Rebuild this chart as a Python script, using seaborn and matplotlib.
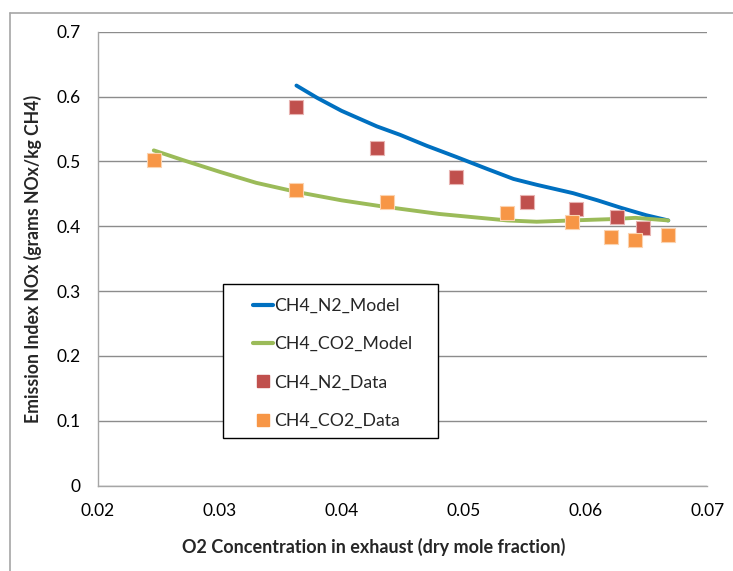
import matplotlib
matplotlib.use('Agg')
import matplotlib.pyplot as plt
import seaborn as sns
from matplotlib.lines import Line2D
from matplotlib.patches import Rectangle

# ---- data ----
n2_data_x = [0.0363, 0.0429, 0.0494, 0.0552, 0.0592, 0.0626, 0.0647]
n2_data_y = [0.584, 0.520, 0.476, 0.437, 0.426, 0.415, 0.397]

co2_data_x = [0.0246, 0.0363, 0.0437, 0.0536, 0.0589, 0.0621, 0.0641, 0.0668]
co2_data_y = [0.502, 0.456, 0.438, 0.420, 0.406, 0.384, 0.379, 0.386]

n2_model_x = [0.0363, 0.0380, 0.0400, 0.0429, 0.0448, 0.0470, 0.0494, 0.0520, 0.0541, 0.0560, 0.0590, 0.0610, 0.0630, 0.0650, 0.0668]
n2_model_y = [0.617, 0.598, 0.578, 0.554, 0.541, 0.524, 0.507, 0.488, 0.473, 0.464, 0.451, 0.440, 0.428, 0.417, 0.409]

co2_model_x = [0.0246, 0.0270, 0.0300, 0.0330, 0.0363, 0.0400, 0.0432, 0.0480, 0.0536, 0.0560, 0.0589, 0.0621, 0.0641, 0.0668]
co2_model_y = [0.517, 0.502, 0.484, 0.467, 0.453, 0.440, 0.431, 0.419, 0.409, 0.407, 0.409, 0.411, 0.413, 0.409]

x_ticks = [0.02, 0.03, 0.04, 0.05, 0.06, 0.07]
x_ticklabels = ['0.02', '0.03', '0.04', '0.05', '0.06', '0.07']
y_ticks = [0, 0.1, 0.2, 0.3, 0.4, 0.5, 0.6, 0.7]
y_ticklabels = ['0', '0.1', '0.2', '0.3', '0.4', '0.5', '0.6', '0.7']

# ---- style ----
sns.set_style('white')
plt.rcParams['font.family'] = ['Lato', 'DejaVu Sans']

W, H = 733, 571
ax_l, ax_r, ax_t, ax_b = 97.7, 707.3, 31.7, 485.7

fig = plt.figure(figsize=(W / 100, H / 100), dpi=100)
ax = fig.add_axes([ax_l / W, 1 - ax_b / H, (ax_r - ax_l) / W, (ax_b - ax_t) / H])

def to_axes(px, py):
    return (px - ax_l) / (ax_r - ax_l), (ax_b - py) / (ax_b - ax_t)

blue, green, red, orange = '#0070C0', '#9BBB59', '#C0504D', '#F79646'

sns.lineplot(x=n2_model_x, y=n2_model_y, color=blue, lw=2.8, ax=ax,
             sort=False, estimator=None, label='CH4_N2_Model')
sns.lineplot(x=co2_model_x, y=co2_model_y, color=green, lw=2.8, ax=ax,
             sort=False, estimator=None, label='CH4_CO2_Model')
sns.scatterplot(x=n2_data_x, y=n2_data_y, color=red, marker='s', s=95,
                edgecolor='#E8B4B2', linewidth=0.8, ax=ax, zorder=3, label='CH4_N2_Data')
sns.scatterplot(x=co2_data_x, y=co2_data_y, color=orange, marker='s', s=95,
                edgecolor='#FBD3B0', linewidth=0.8, ax=ax, zorder=3, label='CH4_CO2_Data')

ax.set_xlim(0.02, 0.07)
ax.set_ylim(0, 0.7)
ax.set_xticks(x_ticks)
ax.set_xticklabels(x_ticklabels)
ax.set_yticks(y_ticks)
ax.set_yticklabels(y_ticklabels)
ax.yaxis.grid(True, color='#8C8C8C', lw=1)
ax.xaxis.grid(False)
ax.set_axisbelow(True)

for s in ['top', 'right']:
    ax.spines[s].set_visible(False)
for s in ['left', 'bottom']:
    ax.spines[s].set_color('#A6A6A6')
    ax.spines[s].set_linewidth(1)

ax.tick_params(axis='both', which='major', labelsize=12.5, colors='#A6A6A6',
               labelcolor='black', length=4.5, width=1, direction='out')
ax.tick_params(axis='y', pad=8)
ax.tick_params(axis='x', pad=8)

ax.set_xlabel('')
ax.set_ylabel('Emission Index NOx (grams NOx/kg CH4)', fontsize=12.7,
              fontweight='bold', labelpad=10)
fig.text(374 / W, 1 - 547 / H, 'O2 Concentration in exhaust (dry mole fraction)',
         ha='center', va='center', fontsize=13, fontweight='bold')

# legend box drawn as a rectangle, legend itself frameless inside it
x0, y0 = to_axes(223.3, 437.7)
x1, y1 = to_axes(437.7, 284.0)
ax.add_patch(Rectangle((x0, y0), x1 - x0, y1 - y0, transform=ax.transAxes,
                       facecolor='white', edgecolor='black', lw=1, zorder=5))

handles = [Line2D([], [], color=blue, lw=3),
           Line2D([], [], color=green, lw=3),
           Line2D([], [], color=red, marker='s', ls='', markersize=9),
           Line2D([], [], color=orange, marker='s', ls='', markersize=9)]
labels = ['CH4_N2_Model', 'CH4_CO2_Model', 'CH4_N2_Data', 'CH4_CO2_Data']
lx, ly = to_axes(252.5, 298.0)
leg = ax.legend(handles, labels, loc='upper left', bbox_to_anchor=(lx, ly),
                borderaxespad=0, borderpad=0, fontsize=12.7, frameon=False,
                handlelength=1.15, handletextpad=0.1, labelspacing=1.26)
leg.set_zorder(6)

# chart area border (left and top edges visible)
fig.add_artist(Line2D([10 / W, 10 / W], [0, 1 - 13 / H], color='#A6A6A6', lw=1.2,
                      transform=fig.transFigure))
fig.add_artist(Line2D([10 / W, 1], [1 - 13 / H, 1 - 13 / H], color='#A6A6A6', lw=1.2,
                      transform=fig.transFigure))

fig.savefig('out.png', dpi=100)
